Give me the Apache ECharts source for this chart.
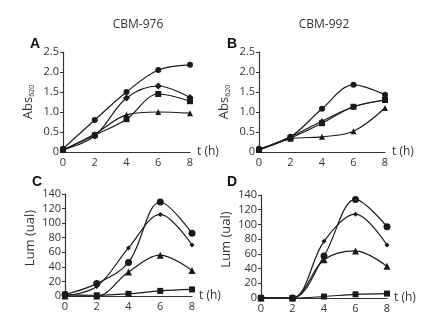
<!DOCTYPE html>
<html>
<head>
<meta charset="utf-8">
<script src="https://cdn.jsdelivr.net/npm/echarts@6/dist/echarts.min.js"></script>
<style>
  html, body { margin: 0; padding: 0; background: #fff; }
  #chart { width: 434px; height: 322px; }
</style>
</head>
<body>
<div id="chart"></div>
<script>
// time points (h)
const hours = [0, 2, 4, 6, 8]

// panel A: CBM-976 absorbance
const absA_circle = [0.08, 0.8, 1.5, 2.05, 2.18]
const absA_diamond = [0.05, 0.4, 1.35, 1.65, 1.36]
const absA_square = [0.05, 0.42, 0.82, 1.45, 1.27]
const absA_triangle = [0.05, 0.45, 0.93, 1.0, 0.97]

// panel B: CBM-992 absorbance
const absB_circle = [0.08, 0.38, 1.08, 1.68, 1.43]
const absB_diamond = [0.05, 0.38, 0.77, 1.13, 1.3]
const absB_square = [0.05, 0.35, 0.72, 1.13, 1.3]
const absB_triangle = [0.05, 0.33, 0.38, 0.52, 1.1]

// panel C: CBM-976 luminescence
const lumC_circle = [2, 17, 46, 129, 86]
const lumC_diamond = [0, 13, 66, 112, 70]
const lumC_triangle = [0, 0, 33, 56, 35]
const lumC_square = [2, 1, 3, 7, 9]

// panel D: CBM-992 luminescence
const lumD_circle = [0, 0, 57, 134, 97]
const lumD_diamond = [0, 0, 77, 114, 72]
const lumD_triangle = [0, 0, 52, 64, 43]
const lumD_square = [0, 0, 2, 5, 6]

const titles = ['CBM-976', 'CBM-992']
const panelLetters = ['A', 'B', 'C', 'D']

const chart = echarts.init(document.getElementById('chart'), null, { renderer: 'canvas' })

const ink = '#1a1a1a'
const font = 'Open Sans'

const xAxisBase = (gridIndex) => ({
  type: 'value',
  gridIndex,
  min: 0,
  max: 8,
  interval: 2,
  name: 't (h)',
  nameLocation: 'end',
  nameGap: 4,
  nameTextStyle: { color: '#333', fontSize: 12, fontFamily: font, verticalAlign: 'middle' },
  axisLine: { show: true, lineStyle: { color: '#333', width: 1.2 } },
  axisTick: { show: false },
  splitLine: { show: false },
  axisLabel: { color: '#333', fontSize: 11, fontFamily: font, margin: 5 }
})

const yAxisBase = (gridIndex, max, interval, name, fmt, shiftUp) => ({
  type: 'value',
  gridIndex,
  min: 0,
  max,
  interval,
  name,
  nameLocation: 'middle',
  nameRotate: 90,
  nameGap: 28,
  nameTextStyle: {
    color: '#333', fontSize: 13, fontFamily: font,
    padding: [0, 0, 0, shiftUp],
    rich: { sub: { fontSize: 7, fontFamily: font, color: '#333', padding: [7, 0, 0, 0] } }
  },
  axisLine: { show: true, lineStyle: { color: '#333', width: 1.2 } },
  axisTick: { show: true, inside: false, length: 3, lineStyle: { color: '#333' } },
  splitLine: { show: false },
  axisLabel: { color: '#333', fontSize: 11, fontFamily: font, margin: 4, formatter: fmt }
})

const absFmt = (v) => (v === 0 ? '0' : v.toFixed(1))
const lumFmt = (v) => String(v)

const mk = (idx, values, symbol, size) => ({
  type: 'line',
  xAxisIndex: idx,
  yAxisIndex: idx,
  data: hours.map((h, i) => [h, values[i]]),
  smooth: 0.35,
  symbol,
  symbolSize: size,
  showAllSymbol: true,
  lineStyle: { color: ink, width: 1.2 },
  itemStyle: { color: ink },
  silent: true,
  animation: false
})

const option = {
  backgroundColor: '#fff',
  animation: false,
  title: [
    { text: titles[0], left: 133, top: 14, textAlign: 'center', textStyle: { fontSize: 12, fontWeight: 'normal', color: '#333', fontFamily: font } },
    { text: titles[1], left: 319, top: 14, textAlign: 'center', textStyle: { fontSize: 12, fontWeight: 'normal', color: '#333', fontFamily: font } },
    { text: panelLetters[0], left: 25, top: 32, textStyle: { fontSize: 14, fontWeight: 'bold', color: '#111', fontFamily: 'Liberation Sans' } },
    { text: panelLetters[1], left: 222, top: 32, textStyle: { fontSize: 14, fontWeight: 'bold', color: '#111', fontFamily: 'Liberation Sans' } },
    { text: panelLetters[2], left: 27, top: 170, textStyle: { fontSize: 14, fontWeight: 'bold', color: '#111', fontFamily: 'Liberation Sans' } },
    { text: panelLetters[3], left: 222, top: 170, textStyle: { fontSize: 14, fontWeight: 'bold', color: '#111', fontFamily: 'Liberation Sans' } }
  ],
  grid: [
    { left: 63, top: 52, width: 127, height: 100 },
    { left: 259, top: 52, width: 126, height: 100 },
    { left: 65, top: 194, width: 127, height: 102 },
    { left: 261, top: 195, width: 126, height: 103 }
  ],
  xAxis: [xAxisBase(0), xAxisBase(1), xAxisBase(2), xAxisBase(3)],
  yAxis: [
    yAxisBase(0, 2.5, 0.5, 'Abs{sub|620}', absFmt, 0),
    yAxisBase(1, 2.5, 0.5, 'Abs{sub|620}', absFmt, 0),
    yAxisBase(2, 140, 20, 'Lum (ual)', lumFmt, 14),
    yAxisBase(3, 140, 20, 'Lum (ual)', lumFmt, 14)
  ],
  series: [
    mk(0, absA_circle, 'circle', 6),
    mk(0, absA_diamond, 'diamond', 7),
    mk(0, absA_square, 'rect', 6),
    mk(0, absA_triangle, 'triangle', 6),
    mk(1, absB_circle, 'circle', 6),
    mk(1, absB_diamond, 'diamond', 6),
    mk(1, absB_square, 'rect', 6),
    mk(1, absB_triangle, 'triangle', 6),
    mk(2, lumC_circle, 'circle', 7),
    mk(2, lumC_diamond, 'diamond', 5),
    mk(2, lumC_triangle, 'triangle', 7),
    mk(2, lumC_square, 'rect', 6),
    mk(3, lumD_circle, 'circle', 7),
    mk(3, lumD_diamond, 'diamond', 5),
    mk(3, lumD_triangle, 'triangle', 7),
    mk(3, lumD_square, 'rect', 6)
  ]
}

chart.setOption(option)
</script>
</body>
</html>
